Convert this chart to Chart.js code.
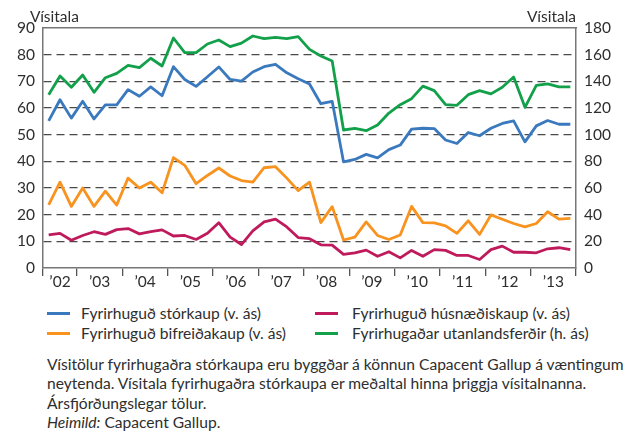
<!DOCTYPE html>
<html lang="is">
<head>
<meta charset="utf-8">
<title>Fyrirhuguð stórkaup</title>
<script src="https://cdn.jsdelivr.net/npm/chart.js@4.4.1/dist/chart.umd.min.js"></script>
<style>
  html, body { margin: 0; padding: 0; background: #fff; }
  body { width: 635px; height: 432px; position: relative; overflow: hidden;
         font-family: Lato, "Noto Sans", sans-serif; color: #2e2e2e; }
  #chartBox { position: absolute; left: 0; top: 0; width: 635px; height: 292px; }
  #legend { position: absolute; left: 47px; top: 303px; width: 588px;
            display: grid; grid-template-columns: 268px 300px; grid-auto-flow: column;
            grid-template-rows: 20px 20px; font-size: 15.6px; }
  #legend .item { display: flex; align-items: center; white-space: nowrap; }
  #legend .swatch { width: 23px; height: 3px; margin-right: 11px; }
  #legend .item:nth-child(n+3) .swatch { margin-right: 14px; }
  #note { position: absolute; left: 47px; top: 355px; font-size: 15.6px; line-height: 19.4px; white-space: nowrap; }
</style>
</head>
<body>
<div id="chartBox"><canvas id="storkaupChart"></canvas></div>
<div id="legend"></div>
<div id="note">
  Vísitölur fyrirhugaðra stórkaupa eru byggðar á könnun Capacent Gallup á væntingum<br>
  neytenda. Vísitala fyrirhugaðra stórkaupa er meðaltal hinna þriggja vísitalnanna.<br>
  Ársfjórðungslegar tölur.<br>
  <i>Heimild:</i> Capacent Gallup.
</div>
<script>
// Quarterly index values, 2002 Q2 - 2013 Q4
const years = ['’02', '’03', '’04', '’05', '’06', '’07', '’08', '’09', '’10', '’11', '’12', '’13'];
const quartersPerYear = [3, 4, 4, 4, 4, 4, 4, 4, 4, 4, 4, 4];

const storkaup = [
    55.2, 63.1, 56.2, 62.5, 55.9, 61.2, 61.2, 66.9, 64.4, 67.9, 64.6, 75.5,
    70.7, 68.1, 71.7, 75.4, 70.7, 70.1, 73.5, 75.5, 76.4, 73.2, 71.0, 69.0,
    61.6, 62.5, 39.8, 40.7, 42.6, 41.3, 44.4, 46.1, 52.1, 52.4, 52.3, 48.0,
    46.7, 50.8, 49.6, 52.4, 54.2, 55.2, 47.3, 53.3, 55.3, 53.9, 53.9
];
const bifreidakaup = [
    23.7, 32.2, 23.1, 30.0, 23.1, 28.8, 23.6, 33.7, 30.0, 32.2, 28.2, 41.4,
    38.5, 31.6, 34.7, 37.5, 34.5, 32.8, 32.2, 37.6, 38.0, 33.7, 29.0, 32.2,
    17.0, 23.0, 10.5, 11.6, 17.3, 12.2, 10.7, 12.4, 23.1, 17.0, 16.9, 15.8,
    13.0, 17.7, 12.6, 19.9, 18.3, 16.7, 15.4, 16.7, 21.1, 18.3, 18.6
];
const husnaediskaup = [
    12.4, 13.0, 10.4, 12.2, 13.6, 12.6, 14.4, 14.8, 12.8, 13.6, 14.3, 12.0,
    12.2, 10.7, 13.0, 17.0, 11.6, 8.8, 13.9, 17.3, 18.3, 15.4, 11.4, 11.0,
    8.7, 8.6, 5.1, 5.7, 6.7, 4.4, 6.1, 3.8, 6.6, 4.4, 6.9, 6.6,
    4.7, 4.7, 3.2, 6.9, 8.2, 5.9, 5.9, 5.7, 7.2, 7.6, 6.9
];
const utanlandsferdir = [
    130.0, 144.0, 135.6, 144.7, 131.8, 142.7, 146.0, 152.0, 150.3, 157.3, 151.5, 172.5,
    161.6, 161.6, 168.0, 171.0, 166.0, 168.7, 174.0, 172.0, 173.0, 172.0, 173.5, 164.0,
    159.0, 155.3, 103.5, 104.8, 103.0, 107.3, 116.2, 122.5, 127.0, 136.4, 133.0, 122.5,
    122.0, 130.0, 133.0, 130.6, 135.6, 143.2, 120.5, 136.9, 138.1, 135.9, 135.9
];

const leftTicks = [0, 10, 20, 30, 40, 50, 60, 70, 80, 90];
const rightTicks = [0, 20, 40, 60, 80, 100, 120, 140, 160, 180];

// year boundaries (tick marks) and year centres (labels) on the quarter axis
const yearEdges = [0];
quartersPerYear.forEach(q => yearEdges.push(yearEdges[yearEdges.length - 1] + q));
const yearCentres = years.map((y, i) => (yearEdges[i] + yearEdges[i + 1]) / 2);
const nQuarters = yearEdges[yearEdges.length - 1];

const FONT = { family: 'Lato, "Noto Sans", sans-serif', size: 15.5 };
const TEXT = '#2e2e2e';
const AXIS = '#777';

const asPoints = arr => arr.map((v, i) => ({ x: i + 0.5, y: v }));

// "Vísitala" captions above both value axes
const axisCaptions = {
    id: 'axisCaptions',
    afterDraw(chart) {
        const { ctx, chartArea } = chart;
        ctx.save();
        ctx.font = '15.5px ' + FONT.family;
        ctx.fillStyle = TEXT;
        ctx.textBaseline = 'alphabetic';
        ctx.textAlign = 'left';
        ctx.fillText('Vísitala', chartArea.left - 13, 22);
        ctx.textAlign = 'right';
        ctx.fillText('Vísitala', chartArea.right, 22);
        ctx.restore();
    }
};

const chart = new Chart(document.getElementById('storkaupChart'), {
    type: 'line',
    data: {
        datasets: [
            { label: 'Fyrirhuguð stórkaup (v. ás)', data: asPoints(storkaup), borderColor: '#3a79bd', yAxisID: 'y' },
            { label: 'Fyrirhuguð bifreiðakaup (v. ás)', data: asPoints(bifreidakaup), borderColor: '#f7931e', yAxisID: 'y' },
            { label: 'Fyrirhuguð húsnæðiskaup (v. ás)', data: asPoints(husnaediskaup), borderColor: '#bf1b5c', yAxisID: 'y' },
            { label: 'Fyrirhugaðar utanlandsferðir (h. ás)', data: asPoints(utanlandsferdir), borderColor: '#13a04a', yAxisID: 'y1' }
        ]
    },
    options: {
        responsive: true,
        maintainAspectRatio: false,
        animation: false,
        layout: { padding: { top: 28, left: 0, right: 0, bottom: 0 } },
        elements: {
            line: { borderWidth: 2.8, tension: 0, borderJoinStyle: 'round' },
            point: { radius: 0 }
        },
        plugins: {
            legend: { display: false },
            tooltip: { enabled: false }
        },
        scales: {
            x: {
                type: 'linear',
                position: 'bottom',
                min: 0,
                max: nQuarters,
                afterBuildTicks: scale => {
                    scale.ticks = yearEdges.concat(yearCentres).map(v => ({ value: v }));
                },
                afterFit: scale => { scale.height = 24; },
                grid: {
                    drawOnChartArea: false,
                    tickLength: 8,
                    lineWidth: 1.3,
                    color: c => (c.tick && yearEdges.includes(c.tick.value)) ? '#555' : 'rgba(0,0,0,0)'
                },
                border: { color: AXIS, width: 1.5 },
                ticks: {
                    autoSkip: false,
                    maxRotation: 0,
                    padding: -3,
                    color: TEXT,
                    font: FONT,
                    callback: v => {
                        const i = yearCentres.indexOf(v);
                        return i >= 0 ? years[i] : '';
                    }
                }
            },
            xTop: {
                type: 'linear',
                position: 'top',
                min: 0,
                max: nQuarters,
                afterFit: scale => { scale.height = 0; },
                grid: { display: false },
                border: { color: AXIS, width: 1.5 },
                ticks: { display: false }
            },
            y: {
                position: 'left',
                min: 0,
                max: 90,
                afterBuildTicks: scale => { scale.ticks = leftTicks.map(v => ({ value: v })); },
                afterFit: scale => { scale.width = 43; },
                grid: {
                    drawTicks: false,
                    lineWidth: 1.3,
                    color: c => (c.tick.value === 0 || c.tick.value === 90) ? 'rgba(0,0,0,0)' : '#4a4a4a'
                },
                border: { color: AXIS, width: 1.5, dash: [8, 5] },
                ticks: { padding: 8, color: TEXT, font: FONT }
            },
            y1: {
                position: 'right',
                min: 0,
                max: 180,
                afterBuildTicks: scale => { scale.ticks = rightTicks.map(v => ({ value: v })); },
                afterFit: scale => { scale.width = 59; },
                grid: { drawOnChartArea: false, drawTicks: false },
                border: { color: AXIS, width: 1.5 },
                ticks: { padding: 8, color: TEXT, font: FONT }
            }
        }
    },
    plugins: [axisCaptions]
});

// legend in two columns, built from the datasets
const legendBox = document.getElementById('legend');
chart.data.datasets.forEach(ds => {
    const item = document.createElement('div');
    item.className = 'item';
    const sw = document.createElement('span');
    sw.className = 'swatch';
    sw.style.background = ds.borderColor;
    item.appendChild(sw);
    item.appendChild(document.createTextNode(ds.label));
    legendBox.appendChild(item);
});
</script>
</body>
</html>
